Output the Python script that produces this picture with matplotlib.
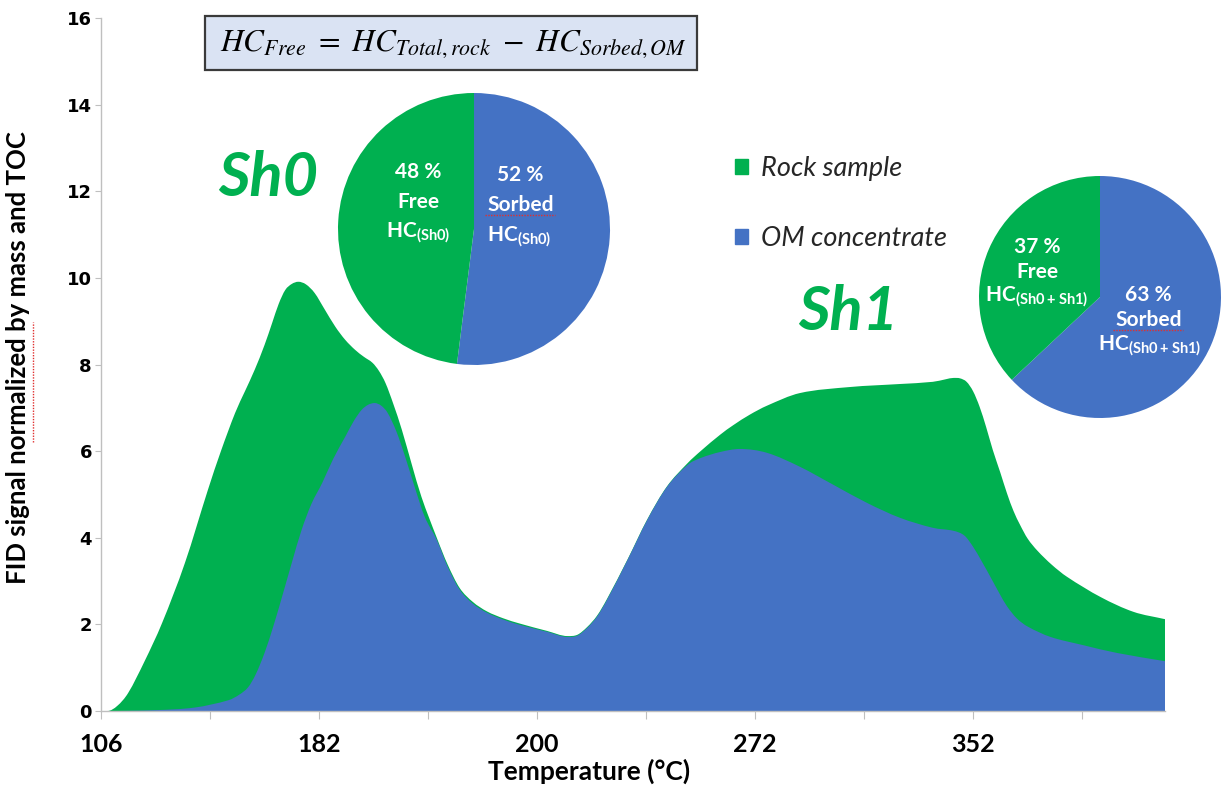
import matplotlib
matplotlib.use('Agg')
import matplotlib.pyplot as plt
from matplotlib.patches import Patch, Rectangle, Circle, PathPatch
from matplotlib.path import Path

# position along the temperature axis (tick index) and FID signal
rock_x = [0.00, 0.06, 0.15, 0.25, 0.40, 0.56, 0.77, 0.98, 1.10, 1.23, 1.32, 1.41, 1.50,
          1.57, 1.63, 1.69, 1.75, 1.81, 1.88, 1.96, 2.05, 2.15, 2.24, 2.33, 2.41, 2.49,
          2.55, 2.61, 2.68, 2.76, 2.85, 2.94, 3.08, 3.18, 3.29, 3.41, 3.54, 3.69, 3.84,
          4.09, 4.28, 4.37, 4.46, 4.55, 4.64, 4.83, 5.01, 5.19, 5.38, 5.50, 5.68, 5.80,
          5.95, 6.11, 6.41, 6.87, 7.33, 7.63, 7.75, 7.82, 7.88, 7.94, 8.00, 8.06, 8.12,
          8.18, 8.25, 8.31, 8.37, 8.43, 8.50, 8.59, 8.72, 8.86, 9.17, 9.47, 9.76]
rock_y = [0.00, 0.00, 0.12, 0.42, 1.15, 2.03, 3.42, 5.10, 6.00, 6.88, 7.38, 7.88, 8.45,
          8.96, 9.40, 9.72, 9.86, 9.91, 9.85, 9.65, 9.28, 8.87, 8.57, 8.34, 8.18, 8.04,
          7.85, 7.57, 7.10, 6.49, 5.70, 4.94, 4.00, 3.38, 2.84, 2.52, 2.30, 2.14, 2.02,
          1.85, 1.73, 1.76, 1.94, 2.20, 2.58, 3.50, 4.42, 5.18, 5.72, 6.00, 6.38, 6.60,
          6.84, 7.05, 7.34, 7.48, 7.55, 7.60, 7.66, 7.69, 7.68, 7.60, 7.38, 7.02, 6.55,
          6.03, 5.50, 5.03, 4.62, 4.30, 3.98, 3.70, 3.38, 3.10, 2.63, 2.29, 2.12]
om_x = [0.00, 0.06, 0.50, 0.86, 1.17, 1.27, 1.35, 1.42, 1.50, 1.58, 1.66, 1.75, 1.84,
        1.93, 2.03, 2.13, 2.24, 2.32, 2.39, 2.45, 2.51, 2.57, 2.63, 2.71, 2.79, 2.88,
        2.97, 3.08, 3.18, 3.29, 3.41, 3.54, 3.69, 3.84, 4.09, 4.28, 4.37, 4.46, 4.55,
        4.64, 4.83, 5.01, 5.19, 5.38, 5.50, 5.68, 5.86, 6.11, 6.41, 6.72, 7.03, 7.33,
        7.63, 7.82, 7.92, 8.00, 8.08, 8.16, 8.24, 8.31, 8.40, 8.50, 8.71, 9.01, 9.32,
        9.76]
om_y = [0.00, 0.00, 0.02, 0.08, 0.25, 0.38, 0.55, 0.85, 1.34, 1.95, 2.63, 3.42, 4.18,
        4.78, 5.27, 5.82, 6.33, 6.70, 6.95, 7.07, 7.11, 7.05, 6.88, 6.45, 5.87, 5.15,
        4.48, 3.95, 3.33, 2.80, 2.48, 2.27, 2.11, 1.99, 1.83, 1.71, 1.74, 1.92, 2.18,
        2.56, 3.49, 4.41, 5.17, 5.68, 5.84, 5.98, 6.05, 5.96, 5.64, 5.22, 4.80, 4.46,
        4.23, 4.16, 4.05, 3.79, 3.45, 3.09, 2.72, 2.42, 2.14, 1.95, 1.71, 1.52, 1.34,
        1.15]

temp_labels = ['106', '', '182', '', '200', '', '272', '', '352', '']
series_names = ['Rock sample', 'OM concentrate']

# sorbed / free shares (%)
sh0_split = [52, 48]
sh1_split = [63, 37]

GREEN = '#00B050'
BLUE = '#4472C4'
GRID = '#BFBFBF'
SQUIGGLE = '#E03030'
W, H = 1231, 789

plt.rcParams['mathtext.fontset'] = 'custom'
plt.rcParams['mathtext.rm'] = 'Lato:bold'


def smooth_area(ax, xs, ys, color):
    # filled area under a smoothed line (cubic Hermite segments, flat at turning points)
    n = len(xs)
    m = []
    for i in range(n):
        if i == 0:
            m.append((ys[1] - ys[0]) / (xs[1] - xs[0]))
        elif i == n - 1:
            m.append((ys[-1] - ys[-2]) / (xs[-1] - xs[-2]))
        else:
            d0 = (ys[i] - ys[i - 1]) / (xs[i] - xs[i - 1])
            d1 = (ys[i + 1] - ys[i]) / (xs[i + 1] - xs[i])
            if d0 * d1 <= 0:
                m.append(0.0)
            else:
                m.append((ys[i + 1] - ys[i - 1]) / (xs[i + 1] - xs[i - 1]))
    verts = [(xs[0], 0), (xs[0], ys[0])]
    codes = [Path.MOVETO, Path.LINETO]
    for i in range(n - 1):
        h = xs[i + 1] - xs[i]
        verts += [(xs[i] + h / 3, ys[i] + m[i] * h / 3),
                  (xs[i + 1] - h / 3, ys[i + 1] - m[i + 1] * h / 3),
                  (xs[i + 1], ys[i + 1])]
        codes += [Path.CURVE4] * 3
    verts += [(xs[-1], 0), (xs[0], 0)]
    codes += [Path.LINETO, Path.CLOSEPOLY]
    ax.add_patch(PathPatch(Path(verts, codes), facecolor=color, lw=0))


fig = plt.figure(figsize=(W / 100, H / 100), dpi=100)
ax = fig.add_axes([101 / W, 78 / H, 1064 / W, 693 / H])

smooth_area(ax, rock_x, rock_y, GREEN)
smooth_area(ax, om_x, om_y, BLUE)

ax.set_xlim(0, rock_x[-1])
ax.set_ylim(0, 16)
ax.set_xticks(range(len(temp_labels)))
ax.set_xticklabels(temp_labels, family='Lato', fontweight='bold', fontsize=18)
ax.set_yticks(range(0, 17, 2))
ax.set_yticklabels([str(v) for v in range(0, 17, 2)], family='DejaVu Sans',
                   fontweight='bold', fontsize=13)
for s in ['top', 'right']:
    ax.spines[s].set_visible(False)
for s in ['left', 'bottom']:
    ax.spines[s].set_color(GRID)
    ax.spines[s].set_linewidth(1.0)
ax.tick_params(axis='x', direction='out', length=6, color=GRID, pad=10)
ax.tick_params(axis='y', direction='out', length=4.5, color=GRID, pad=2)

ax.set_xlabel('Temperature (°C)', family='Lato', fontweight='bold', fontsize=19)
ax.xaxis.set_label_coords((589 - 101) / 1064, (711 - 759) / 693)
ax.set_ylabel('FID signal normalized by mass and TOC', family='Lato',
              fontweight='bold', fontsize=18.5)
ax.yaxis.set_label_coords((30 - 101) / 1064, 0.51)

# legend
handles = [Patch(color=GREEN), Patch(color=BLUE)]
ax.legend(handles, series_names, loc='upper left',
          bbox_to_anchor=((711 - 101) / 1064, (711 - 132) / 693),
          frameon=False, handlelength=0.45, handleheight=0.45, handletextpad=0.5,
          labelspacing=1.65, prop=dict(family='Lato', style='italic', size=19.5),
          labelcolor='#262626')

# shale labels
fig.text(268 / W, 1 - 178 / H, 'Sh0', color=GREEN, family='Lato', style='italic',
         fontweight='bold', fontsize=44, ha='center', va='center')
fig.text(848 / W, 1 - 312 / H, 'Sh1', color=GREEN, family='Lato', style='italic',
         fontweight='bold', fontsize=44, ha='center', va='center')

# formula box
fig.patches.append(Rectangle((205 / W, 1 - 70 / H), 492 / W, 54 / H,
                             transform=fig.transFigure, facecolor='#DAE3F3',
                             edgecolor='#3A3A3A', lw=1.6))
fig.text(453 / W, 1 - 44 / H,
         r'$HC_{Free}\ =\ HC_{Total,rock}\ -\ HC_{Sorbed,OM}$',
         math_fontfamily='stix', fontsize=22.5, ha='center', va='center')


def draw_pie(split, cx, cy, r, tag, spots):
    pad = 1.05
    side = 2 * pad * r
    pax = fig.add_axes([(cx - pad * r) / W, (H - cy - pad * r) / H, side / W, side / H])
    pax.pie(split, colors=[BLUE, GREEN], startangle=90, counterclock=False,
            radius=1, wedgeprops=dict(lw=0))
    pax.add_patch(Circle((0, 0), pad, color='white', zorder=0))
    pax.set_xlim(-pad, pad)
    pax.set_ylim(-pad, pad)
    pax.set_aspect('equal')
    pax.axis('off')
    sorbed, free = split
    lines = [(f'{free} %', spots[0]), ('Free', spots[1]),
             (r'HC$_{\mathrm{(' + tag + ')}}$', spots[2]),
             (f'{sorbed} %', spots[3]), ('Sorbed', spots[4]),
             (r'HC$_{\mathrm{(' + tag + ')}}$', spots[5])]
    for txt, (dx, dy) in lines:
        pax.text(dx, dy, txt, color='white', family='Lato', fontweight='bold',
                 fontsize=15, ha='center', va='center')
    # spell-check squiggle under "Sorbed"
    sx, sy = spots[4]
    half = 35 / r
    pax.plot([sx - half, sx + half], [sy - 10 / r, sy - 10 / r], color=SQUIGGLE,
             lw=1, ls=(0, (1, 1)))


draw_pie(sh0_split, 474, 229, 136, 'Sh0',
         [(-0.41, 0.42), (-0.41, 0.20), (-0.41, -0.03),
          (0.34, 0.40), (0.34, 0.18), (0.33, -0.06)])
draw_pie(sh1_split, 1100, 297, 121, 'Sh0+Sh1',
         [(-0.52, 0.41), (-0.52, 0.21), (-0.52, 0.0),
          (0.40, 0.02), (0.40, -0.19), (0.41, -0.40)])

# spell-check squiggle beside "normalized" in the y label
fig.add_artist(plt.Line2D([33 / W, 33 / W], [1 - 442 / H, 1 - 322 / H],
                          color=SQUIGGLE, lw=1, ls=(0, (1, 1))))

fig.savefig('out.png', dpi=100)
